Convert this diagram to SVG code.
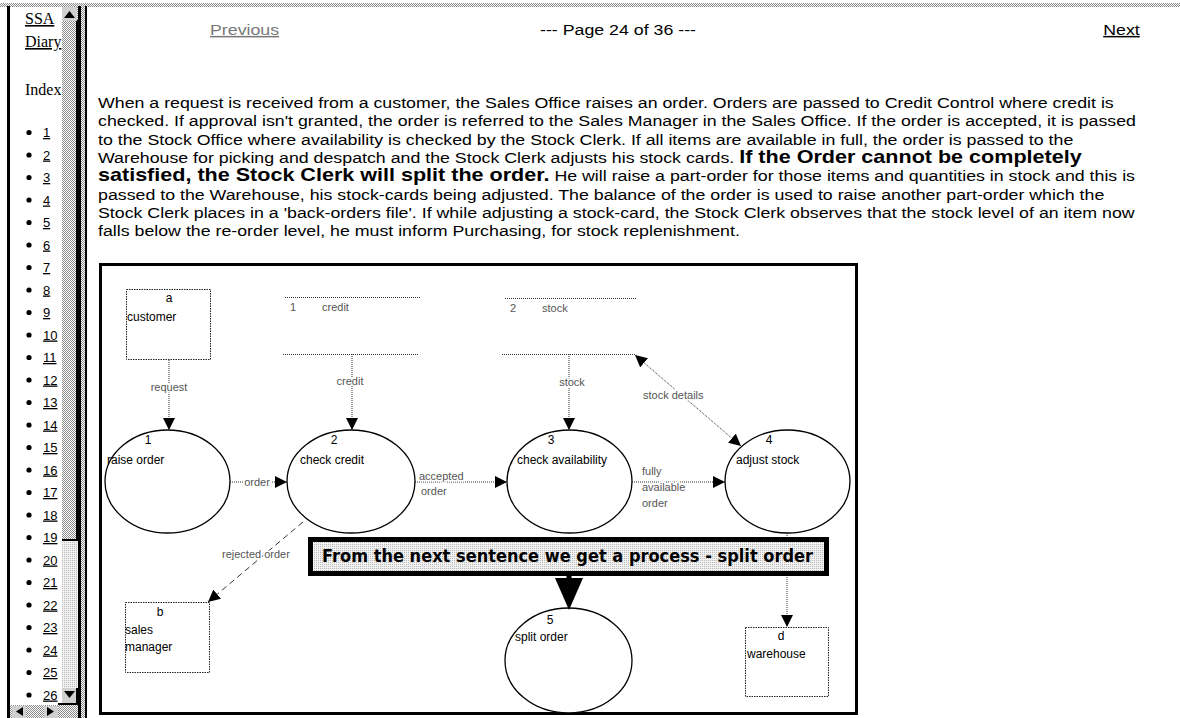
<svg xmlns="http://www.w3.org/2000/svg" width="1180" height="718" viewBox="0 0 1180 718">
<style>
  .para { font-family: "Liberation Sans", Arial, sans-serif; font-size: 15px; fill: #000; }
  .bold { font-weight: bold; font-size: 18.2px; }
  .nav { font-family: "Liberation Sans", Arial, sans-serif; font-size: 15px; }
  .side { font-family: "Liberation Serif", "Times New Roman", serif; font-size: 16px; fill: #000; }
  .num { font-family: "Liberation Sans", Arial, sans-serif; font-size: 13px; fill: #000; text-decoration: underline; }
  .lbl { font-family: "Liberation Sans", Arial, sans-serif; font-size: 12px; fill: #000; }
  .flow { font-family: "Liberation Sans", Arial, sans-serif; font-size: 11px; fill: #555; stroke: #fff; stroke-width: 3px; paint-order: stroke; }
  .store { font-family: "Liberation Sans", Arial, sans-serif; font-size: 11px; fill: #555; }
  .dot { stroke: #333; stroke-width: 1; stroke-dasharray: 1 1; fill: none; }
  .dash { stroke: #333; stroke-width: 1; stroke-dasharray: 6 4; fill: none; }
  .ent { fill: #fff; stroke: #222; stroke-width: 1; stroke-dasharray: 1.5 1; }
  .proc { fill: #fff; stroke: #000; stroke-width: 1.3; }
</style>
<defs>
  <pattern id="dith" width="2" height="2" patternUnits="userSpaceOnUse">
    <rect width="2" height="2" fill="#fff"/>
    <rect width="1" height="1" fill="#8a8a8a"/>
    <rect x="1" y="1" width="1" height="1" fill="#8a8a8a"/>
  </pattern>
  <pattern id="dithl" width="2" height="2" patternUnits="userSpaceOnUse">
    <rect width="2" height="2" fill="#f2f2f2"/>
    <rect width="1" height="1" fill="#b8b8b8"/>
  </pattern>
  <marker id="arr" viewBox="0 0 12 12" refX="12" refY="6" markerWidth="12" markerHeight="12" markerUnits="userSpaceOnUse" orient="auto-start-reverse">
    <path d="M0,0 L12,6 L0,12 z" fill="#000"/>
  </marker>
  <clipPath id="sideclip"><rect x="10" y="6" width="52" height="699"/></clipPath>
</defs>

<rect width="1180" height="718" fill="#fff"/>

<!-- window chrome -->
<g id="chrome">
  <rect x="0" y="3" width="1180" height="4" fill="url(#dith)"/>
  <rect x="7" y="6" width="3" height="712" fill="#000"/>
  <rect x="62" y="6" width="16" height="535" fill="url(#dith)"/>
  <rect x="62" y="541" width="16" height="147" fill="url(#dithl)"/>
  <rect x="76" y="20" width="2" height="521" fill="#000"/>
  <rect x="62" y="539" width="16" height="2" fill="#000"/>
  <rect x="62" y="7" width="15" height="14" fill="#d0d0d0"/>
  <path d="M64,18 L69.5,11 L75,18 z" fill="#000"/>
  <rect x="62" y="688" width="16" height="15" fill="#d0d0d0"/>
  <path d="M64,691 L69.5,698 L75,691 z" fill="#000"/>
  <rect x="76" y="688" width="2" height="17" fill="#000"/>
  <rect x="58" y="703" width="20" height="2" fill="#000"/>
  <rect x="10" y="705" width="68" height="13" fill="url(#dith)"/>
  <rect x="12" y="706" width="14" height="12" fill="#d0d0d0"/>
  <path d="M23,707 L16,711.5 L23,716 z" fill="#000"/>
  <rect x="44" y="706" width="14" height="12" fill="#d0d0d0"/>
  <path d="M47,707 L54,711.5 L47,716 z" fill="#000"/>
  <rect x="78" y="6" width="3" height="712" fill="#000"/>
  <rect x="81" y="6" width="4" height="712" fill="url(#dith)"/>
  <rect x="85" y="6" width="2" height="712" fill="#000"/>
</g>

<!-- sidebar -->
<g id="sidebar" clip-path="url(#sideclip)">
  <text class="side" x="25" y="24" text-decoration="underline">SSA</text>
  <text class="side" x="25" y="47" text-decoration="underline">Diary</text>
  <text class="side" x="25" y="95">Index</text>
  <g fill="#000">
    <circle cx="29" cy="132.5" r="2.6"/><circle cx="29" cy="155" r="2.6"/><circle cx="29" cy="177.5" r="2.6"/><circle cx="29" cy="200" r="2.6"/><circle cx="29" cy="222.5" r="2.6"/><circle cx="29" cy="245" r="2.6"/><circle cx="29" cy="267.5" r="2.6"/><circle cx="29" cy="290" r="2.6"/><circle cx="29" cy="312.5" r="2.6"/><circle cx="29" cy="335" r="2.6"/><circle cx="29" cy="357.5" r="2.6"/><circle cx="29" cy="380" r="2.6"/><circle cx="29" cy="402.5" r="2.6"/><circle cx="29" cy="425" r="2.6"/><circle cx="29" cy="447.5" r="2.6"/><circle cx="29" cy="470" r="2.6"/><circle cx="29" cy="492.5" r="2.6"/><circle cx="29" cy="515" r="2.6"/><circle cx="29" cy="537.5" r="2.6"/><circle cx="29" cy="560" r="2.6"/><circle cx="29" cy="582.5" r="2.6"/><circle cx="29" cy="605" r="2.6"/><circle cx="29" cy="627.5" r="2.6"/><circle cx="29" cy="650" r="2.6"/><circle cx="29" cy="672.5" r="2.6"/><circle cx="29" cy="695" r="2.6"/>
  </g>
  <text class="num" x="43" y="137">1</text>
  <text class="num" x="43" y="159.5">2</text>
  <text class="num" x="43" y="182">3</text>
  <text class="num" x="43" y="204.5">4</text>
  <text class="num" x="43" y="227">5</text>
  <text class="num" x="43" y="249.5">6</text>
  <text class="num" x="43" y="272">7</text>
  <text class="num" x="43" y="294.5">8</text>
  <text class="num" x="43" y="317">9</text>
  <text class="num" x="43" y="339.5">10</text>
  <text class="num" x="43" y="362">11</text>
  <text class="num" x="43" y="384.5">12</text>
  <text class="num" x="43" y="407">13</text>
  <text class="num" x="43" y="429.5">14</text>
  <text class="num" x="43" y="452">15</text>
  <text class="num" x="43" y="474.5">16</text>
  <text class="num" x="43" y="497">17</text>
  <text class="num" x="43" y="519.5">18</text>
  <text class="num" x="43" y="542">19</text>
  <text class="num" x="43" y="564.5">20</text>
  <text class="num" x="43" y="587">21</text>
  <text class="num" x="43" y="609.5">22</text>
  <text class="num" x="43" y="632">23</text>
  <text class="num" x="43" y="654.5">24</text>
  <text class="num" x="43" y="677">25</text>
  <text class="num" x="43" y="699.5">26</text>
</g>

<!-- page navigation -->
<g id="nav" transform="scale(1.185 1)">
  <text class="nav" x="177.2" y="35" fill="#777" text-decoration="underline">Previous</text>
  <text class="nav" x="521.5" y="35" fill="#000" text-anchor="middle">--- Page 24 of 36 ---</text>
  <text class="nav" x="931" y="35" fill="#000" text-decoration="underline">Next</text>
</g>

<!-- paragraph -->
<g id="paragraph" transform="scale(1.185 1)">
  <text class="para" x="82.7" y="108">When a request is received from a customer, the Sales Office raises an order. Orders are passed to Credit Control where credit is</text>
  <text class="para" x="82.7" y="126.3">checked. If approval isn't granted, the order is referred to the Sales Manager in the Sales Office. If the order is accepted, it is passed</text>
  <text class="para" x="82.7" y="144.6">to the Stock Office where availability is checked by the Stock Clerk. If all items are available in full, the order is passed to the</text>
  <text class="para" x="82.7" y="163">Warehouse for picking and despatch and the Stock Clerk adjusts his stock cards. <tspan class="bold">If the Order cannot be completely</tspan></text>
  <text class="para" x="82.7" y="181.5"><tspan class="bold">satisfied, the Stock Clerk will split the order.</tspan> He will raise a part-order for those items and quantities in stock and this is</text>
  <text class="para" x="82.7" y="199.8">passed to the Warehouse, his stock-cards being adjusted. The balance of the order is used to raise another part-order which the</text>
  <text class="para" x="82.7" y="218.1">Stock Clerk places in a 'back-orders file'. If while adjusting a stock-card, the Stock Clerk observes that the stock level of an item now</text>
  <text class="para" x="82.7" y="236.4">falls below the re-order level, he must inform Purchasing, for stock replenishment.</text>
</g>

<!-- diagram frame -->
<rect x="100.5" y="264.5" width="756" height="449" fill="#fff" stroke="#000" stroke-width="3"/>

<!-- connectors -->
<g id="connectors">
  <line class="dot" x1="169" y1="360" x2="169" y2="430" marker-end="url(#arr)"/>
  <line class="dot" x1="352" y1="354" x2="352" y2="430" marker-end="url(#arr)"/>
  <line class="dot" x1="569" y1="354" x2="569" y2="430" marker-end="url(#arr)"/>
  <line class="dot" x1="635" y1="355" x2="741" y2="446" marker-start="url(#arr)" marker-end="url(#arr)"/>
  <line class="dot" x1="230" y1="482" x2="287" y2="482" marker-end="url(#arr)"/>
  <line class="dot" x1="415" y1="482" x2="507" y2="482" marker-end="url(#arr)"/>
  <line class="dot" x1="632" y1="482" x2="725" y2="482" marker-end="url(#arr)"/>
  <line class="dot" x1="787" y1="533" x2="787" y2="627" marker-end="url(#arr)"/>
  <line class="dash" x1="303" y1="522" x2="208" y2="602" marker-end="url(#arr)"/>
  <text class="flow" x="169" y="391" text-anchor="middle">request</text>
  <text class="flow" x="350" y="385" text-anchor="middle">credit</text>
  <text class="flow" x="572" y="386" text-anchor="middle">stock</text>
  <text class="flow" x="643" y="399">stock details</text>
  <text class="flow" x="257" y="486" text-anchor="middle">order</text>
  <text class="flow" x="419" y="480">accepted</text>
  <text class="flow" x="421" y="495">order</text>
  <text class="flow" x="642" y="475">fully</text>
  <text class="flow" x="642" y="491">available</text>
  <text class="flow" x="642" y="507">order</text>
  <text class="flow" x="222" y="558">rejected order</text>
</g>

<!-- external entities -->
<g id="customer">
  <rect class="ent" x="126.5" y="289.5" width="84" height="70"/>
  <text class="lbl" x="169" y="302" text-anchor="middle">a</text>
  <text class="lbl" x="127" y="321">customer</text>
</g>
<g id="sales-manager">
  <rect class="ent" x="125.5" y="602.5" width="84" height="70"/>
  <text class="lbl" x="160" y="616" text-anchor="middle">b</text>
  <text class="lbl" x="125" y="634">sales</text>
  <text class="lbl" x="125" y="651">manager</text>
</g>
<g id="warehouse">
  <rect class="ent" x="745.5" y="627.5" width="83" height="69"/>
  <text class="lbl" x="781" y="640" text-anchor="middle">d</text>
  <text class="lbl" x="747" y="658">warehouse</text>
</g>

<!-- data stores -->
<g id="store-credit">
  <line class="dot" x1="285" y1="297.5" x2="420" y2="297.5"/>
  <line class="dot" x1="283" y1="354.5" x2="418" y2="354.5"/>
  <text class="store" x="290" y="311">1</text>
  <text class="store" x="322" y="311">credit</text>
</g>
<g id="store-stock">
  <line class="dot" x1="505" y1="298.5" x2="637" y2="298.5"/>
  <line class="dot" x1="502" y1="354.5" x2="635" y2="354.5"/>
  <text class="store" x="510" y="312">2</text>
  <text class="store" x="542" y="312">stock</text>
</g>

<!-- processes -->
<g id="raise-order">
  <ellipse class="proc" cx="167.5" cy="481.5" rx="62.5" ry="51.5"/>
  <text class="lbl" x="148" y="444" text-anchor="middle">1</text>
  <text class="lbl" x="107" y="464">raise order</text>
</g>
<g id="check-credit">
  <ellipse class="proc" cx="351" cy="481.5" rx="64" ry="51.5"/>
  <text class="lbl" x="334" y="444" text-anchor="middle">2</text>
  <text class="lbl" x="300" y="464">check credit</text>
</g>
<g id="check-availability">
  <ellipse class="proc" cx="569.5" cy="481.5" rx="62.5" ry="51.5"/>
  <text class="lbl" x="551" y="444" text-anchor="middle">3</text>
  <text class="lbl" x="517" y="464">check availability</text>
</g>
<g id="adjust-stock">
  <ellipse class="proc" cx="787.5" cy="481.5" rx="62.5" ry="51.5"/>
  <text class="lbl" x="769" y="444" text-anchor="middle">4</text>
  <text class="lbl" x="736" y="464">adjust stock</text>
</g>
<g id="split-order">
  <ellipse class="proc" cx="568.5" cy="660.5" rx="63.5" ry="52.5"/>
  <text class="lbl" x="550" y="624" text-anchor="middle">5</text>
  <text class="lbl" x="515" y="641">split order</text>
</g>

<!-- callout banner -->
<g id="banner">
  <rect x="310.5" y="539.5" width="516" height="34" fill="url(#dithl)" stroke="#000" stroke-width="5"/>
  <text x="322" y="562" font-family="'DejaVu Sans', Verdana, sans-serif" font-weight="bold" font-size="17" textLength="491" lengthAdjust="spacingAndGlyphs" fill="#000">From the next sentence we get a process - split order</text>
  <rect x="566.5" y="574" width="5" height="5" fill="#000"/>
  <polygon points="555,578 583,578 569,610" fill="#000"/>
</g>
</svg>
